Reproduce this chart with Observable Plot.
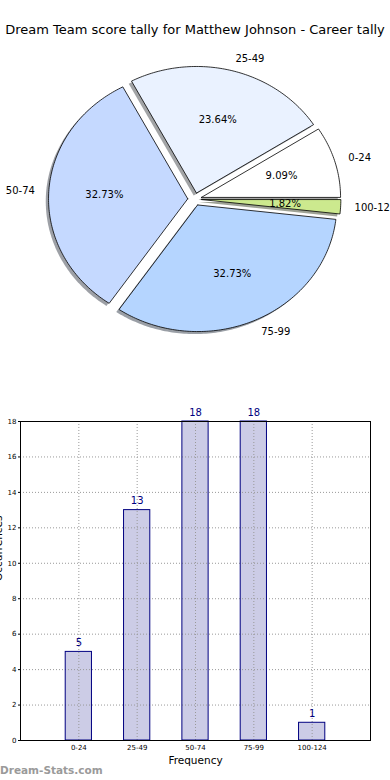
<!DOCTYPE html>
<html>
<head>
<meta charset="utf-8">
<script src="https://cdn.jsdelivr.net/npm/d3@7"></script>
<script src="https://cdn.jsdelivr.net/npm/@observablehq/plot@0.6"></script>
<style>
  html, body { margin: 0; padding: 0; background: #fff; overflow: hidden; }
  #wrap { position: relative; width: 390px; height: 780px; font-family: "DejaVu Sans", sans-serif; }
  #pie { position: absolute; left: 0; top: 0; }
  #bar { position: absolute; left: 0; top: 400px; }
  #title { position: absolute; left: 0; top: 22px; width: 390px; text-align: center; font-size: 13px; line-height: 16px; color: #000; z-index: 2; white-space: nowrap; }
  #mark { position: absolute; left: 0; top: 764px; font-size: 10.5px; font-weight: bold; color: #9a9a9a; z-index: 2; font-family: "DejaVu Sans", sans-serif; }
</style>
</head>
<body>
<div id="wrap">
  <div id="pie"></div>
  <div id="bar"></div>
  <div id="title">Dream Team score tally for Matthew Johnson - Career tally</div>
  <div id="mark">Dream-Stats.com</div>
</div>
<script>
// ---- data ----
const categories = ["0-24", "25-49", "50-74", "75-99", "100-124"];
const counts = [5, 13, 18, 18, 1];
const sliceColors = ["#ffffff", "#eaf2ff", "#c5d9ff", "#b5d5ff", "#cce98e"];
const explode = [0.05, 0.05, 0.05, 0.05, 0.05];
const yTicks = [0, 2, 4, 6, 8, 10, 12, 14, 16, 18];
const chartTitle = "Dream Team score tally for Matthew Johnson - Career tally";
const xLabel = "Frequency";
const yLabel = "Occurrences";

// ---- pie geometry (matplotlib style: start at 0deg, counter-clockwise) ----
const total = d3.sum(counts);
let acc = 0;
const slices = counts.map((c, i) => {
  const t1 = acc / total * 2 * Math.PI;
  acc += c;
  const t2 = acc / total * 2 * Math.PI;
  const mid = (t1 + t2) / 2;
  const ox = explode[i] * Math.cos(mid), oy = explode[i] * Math.sin(mid);
  const n = Math.max(4, Math.ceil((t2 - t1) / (Math.PI / 180)));
  const pts = [{x: ox, y: oy}];
  for (let k = 0; k <= n; k++) {
    const t = t1 + (t2 - t1) * k / n;
    pts.push({x: ox + Math.cos(t), y: oy + Math.sin(t)});
  }
  pts.push({x: ox, y: oy});
  return {i, cat: categories[i], count: c, pct: (100 * c / total).toFixed(2) + "%", mid, ox, oy, pts, color: sliceColors[i]};
});

function shade(hex) {
  const c = d3.rgb(hex);
  return d3.rgb(c.r * 0.3, c.g * 0.3, c.b * 0.3).formatHex();
}

const labels = slices.map(s => ({
  text: s.cat,
  x: s.ox + 1.1 * Math.cos(s.mid),
  y: s.oy + 1.1 * Math.sin(s.mid),
  right: Math.cos(s.mid) >= 0
}));
const pctLabels = slices.map(s => ({
  text: s.pct,
  x: s.ox + 0.6 * Math.cos(s.mid),
  y: s.oy + 0.6 * Math.sin(s.mid)
}));

// layout of the (elliptical) pie
const W = 390, PH = 380, cx = 194.2, cy = 198.7, rx = 139.2, ry = 126.6;
const shadowOff = 0.02;

const pieMarks = [];
slices.forEach(s => {
  pieMarks.push(Plot.line(s.pts, {x: d => d.x - shadowOff, y: d => d.y - shadowOff, fill: shade(s.color), fillOpacity: 0.5, stroke: "none"}));
});
slices.forEach(s => {
  pieMarks.push(Plot.line(s.pts, {x: "x", y: "y", fill: s.color, stroke: "#000", strokeWidth: 0.8, strokeLinejoin: "miter"}));
});
pieMarks.push(Plot.text(labels.filter(d => d.right), {x: "x", y: "y", text: "text", textAnchor: "start", fontSize: 10, fill: "#000"}));
pieMarks.push(Plot.text(labels.filter(d => !d.right), {x: "x", y: "y", text: "text", textAnchor: "end", fontSize: 10, fill: "#000"}));
pieMarks.push(Plot.text(pctLabels, {x: "x", y: "y", text: "text", fontSize: 10, fill: "#000"}));

const pie = Plot.plot({
  width: W, height: PH,
  margin: 0,
  x: {domain: [-cx / rx, (W - cx) / rx], axis: null},
  y: {domain: [-(PH - cy) / ry, cy / ry], axis: null},
  style: {fontFamily: "DejaVu Sans, sans-serif", background: "transparent", overflow: "hidden"},
  marks: pieMarks
});
document.getElementById("pie").appendChild(pie);

// ---- bar chart ----
const bars = categories.map((c, i) => ({i, cat: c, count: counts[i]}));
const idx = bars.map(d => d.i);
const bar = Plot.plot({
  width: W, height: 380,
  marginLeft: 20, marginRight: 20, marginTop: 21, marginBottom: 40,
  x: {domain: [-1, categories.length]},
  y: {domain: [0, 18]},
  style: {fontFamily: "DejaVu Sans, sans-serif", background: "transparent", overflow: "hidden"},
  marks: [
    Plot.rectY(bars, {x1: d => d.i - 0.225, x2: d => d.i + 0.225, y: "count", fill: "#000080", fillOpacity: 0.2}),
    Plot.gridY(yTicks, {stroke: "#999", strokeOpacity: 1, strokeDasharray: "1,2"}),
    Plot.gridX(idx, {stroke: "#999", strokeOpacity: 1, strokeDasharray: "1,2"}),
    Plot.rectY(bars, {x1: d => d.i - 0.225, x2: d => d.i + 0.225, y: "count", fill: "none", stroke: "#000080", strokeWidth: 1}),
    Plot.frame({stroke: "#000", strokeWidth: 1}),
    Plot.axisX({ticks: idx, tickFormat: i => categories[i], tickSize: 0, tickPadding: 5, fontSize: 7, fill: "#000", label: null}),
    Plot.axisY({ticks: yTicks, tickSize: 2, tickPadding: 2, fontSize: 7, fill: "#000", label: null}),
    Plot.text(bars, {x: "i", y: "count", text: d => String(d.count), dy: -9, fill: "#000080", fontSize: 10}),
    Plot.text([xLabel], {frameAnchor: "bottom", dy: 23, text: d => d, fontSize: 10.5, fill: "#000"}),
    Plot.text([yLabel], {frameAnchor: "left", dx: -19, rotate: -90, lineAnchor: "bottom", text: d => d, fontSize: 10.5, fill: "#000"})
  ]
});
document.getElementById("bar").appendChild(bar);
</script>
</body>
</html>
